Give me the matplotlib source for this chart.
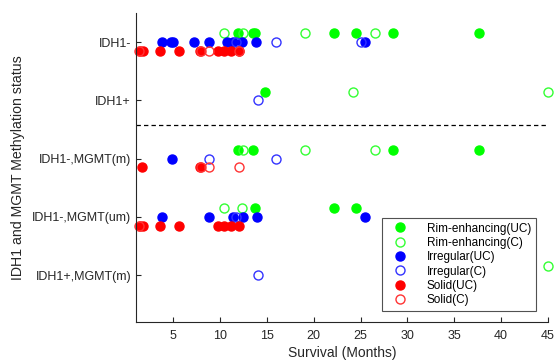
import matplotlib
matplotlib.use("Agg")
import matplotlib.pyplot as plt

plt.rcParams["font.family"] = ["Liberation Sans", "DejaVu Sans"]

# row labels, top to bottom
rows = ["IDH1-", "IDH1+", "IDH1-,MGMT(m)", "IDH1-,MGMT(um)", "IDH1+,MGMT(m)"]
row_y = [5, 4, 3, 2, 1]

# survival (months) per row
rim_uc = [[11.9, 13.5, 13.7, 22.2, 24.5, 28.5, 37.7],
          [14.8],
          [11.9, 13.5, 28.5, 37.7],
          [13.7, 22.2, 24.5],
          []]
rim_c = [[10.45, 12.45, 19.1, 26.5],
         [24.2, 45.0],
         [12.45, 19.1, 26.5],
         [10.4, 12.3],
         [45.0]]
irr_uc = [[3.8, 4.7, 5.0, 7.2, 8.8, 10.7, 11.4, 12.35, 13.85, 25.5],
          [],
          [4.85],
          [3.8, 8.85, 11.4, 12.4, 13.9, 25.5],
          []]
irr_c = [[11.7, 16.0, 25.0],
         [14.05],
         [8.75, 16.0],
         [11.7],
         [14.05]]
sol_uc = [[1.45, 1.7, 3.55, 5.6, 7.8, 9.75, 10.45, 11.2, 12.0],
          [],
          [1.6, 7.8],
          [1.45, 1.7, 3.55, 5.6, 9.75, 10.45, 11.2, 12.0],
          []]
sol_c = [[1.3, 7.95, 8.75, 12.0],
         [],
         [8.0, 8.75, 12.0],
         [1.3],
         []]

groups = [
    ("Rim-enhancing(UC)", rim_uc, "#00ff00", True, 0.15),
    ("Rim-enhancing(C)", rim_c, "#33ff33", False, 0.15),
    ("Irregular(UC)", irr_uc, "#0000ff", True, 0.0),
    ("Irregular(C)", irr_c, "#3333ff", False, 0.0),
    ("Solid(UC)", sol_uc, "#ff0000", True, -0.15),
    ("Solid(C)", sol_c, "#ff3333", False, -0.15),
]

fig = plt.figure(figsize=(5.55, 3.6), dpi=100)
ax = fig.add_axes([0.245, 0.106, 0.742, 0.858])

for label, data, color, filled, off in groups:
    xs, ys = [], []
    for y, vals in zip(row_y, data):
        xs += vals
        ys += [y + off] * len(vals)
    ax.plot(xs, ys, linestyle="none", marker="o", markersize=6.5,
            markerfacecolor=color if filled else "none",
            markeredgecolor=color, markeredgewidth=1.0,
            label=label, clip_on=False)

ax.axhline(3.57, color="black", linestyle="--", linewidth=0.9, dashes=(3.5, 2.5))

ax.set_xlim(1, 45)
ax.set_ylim(0.2, 5.5)
ax.set_xticks([5, 10, 15, 20, 25, 30, 35, 40, 45])
ax.set_yticks(row_y)
ax.set_yticklabels(rows)
ax.tick_params(direction="in", length=3.5, labelsize=9, colors="#262626",
               width=0.8)
ax.tick_params(axis="x", pad=6)
for s in ["top", "right"]:
    ax.spines[s].set_visible(False)
for s in ["left", "bottom"]:
    ax.spines[s].set_color("#262626")
    ax.spines[s].set_linewidth(0.8)

ax.set_xlabel("Survival (Months)", fontsize=10, color="#262626", labelpad=3)
ax.set_ylabel("IDH1 and MGMT Methylation status", fontsize=10.2,
              color="#262626", labelpad=5)

leg = ax.legend(loc="upper left", bbox_to_anchor=(0.583, 0.356),
                fontsize=8.5, frameon=True, fancybox=False,
                handletextpad=1.2, labelspacing=0.2, borderpad=0.4,
                handlelength=2.2)
leg.get_frame().set_edgecolor("#262626")
leg.get_frame().set_linewidth(0.8)

fig.savefig("out.png", dpi=100)
